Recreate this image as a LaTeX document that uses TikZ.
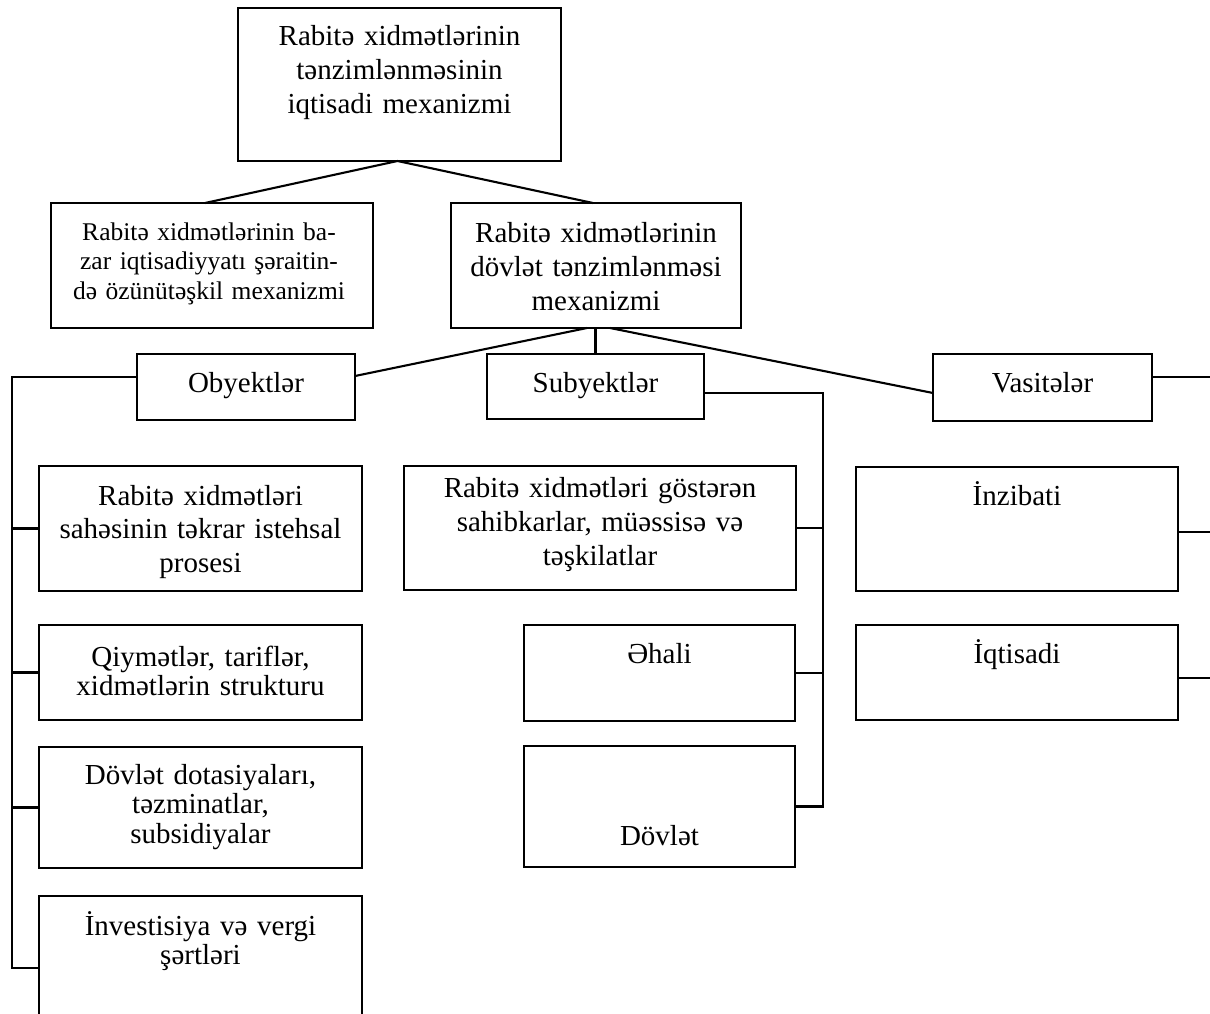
\documentclass[tikz,border=0pt]{standalone}
\usepackage{fontspec}
\setmainfont{Liberation Serif}
\begin{document}
\begin{tikzpicture}[x=1pt,y=-1pt,line width=2.1pt,
  box/.style={draw,line width=2.1pt,inner sep=0pt,outer sep=0pt},
  txt/.style={anchor=base,align=center,inner sep=0pt,text width=#1},
  big/.style={font=\fontsize{29}{34}\selectfont},
  mid/.style={font=\fontsize{29}{29.5}\selectfont},
  small/.style={font=\fontsize{25.5}{29.5}\selectfont}]
\useasboundingbox (0,0) rectangle (1210,1014);
\clip (0,0) rectangle (1210,1014);
% boxes
\node[box,minimum width=323,minimum height=153] (T) at (399.5,84.5) {};
\node[box,minimum width=322,minimum height=125] (B) at (212,265.5) {};
\node[box,minimum width=290,minimum height=125] (G) at (596,265.5) {};
\node[box,minimum width=218,minimum height=66] (O) at (246,387) {};
\node[box,minimum width=217,minimum height=65] (S) at (595.5,386.5) {};
\node[box,minimum width=219,minimum height=67] (V) at (1042.5,387.5) {};
\node[box,minimum width=323,minimum height=125] (L1) at (200.5,528.5) {};
\node[box,minimum width=323,minimum height=95] (L2) at (200.5,672.5) {};
\node[box,minimum width=323,minimum height=121] (L3) at (200.5,807.5) {};
\node[box,minimum width=323,minimum height=144] (L4) at (200.5,968) {};
\node[box,minimum width=392,minimum height=124] (M1) at (600,528) {};
\node[box,minimum width=271,minimum height=96] (M2) at (659.5,673) {};
\node[box,minimum width=271,minimum height=121] (M3) at (659.5,806.5) {};
\node[box,minimum width=322,minimum height=124] (R1) at (1017,529) {};
\node[box,minimum width=322,minimum height=95] (R2) at (1017,672.5) {};
% texts
\node[txt=323pt,big] (tT) at (399.5,46) {Rabitə xidmətlərinin\\tənzimlənməsinin\\iqtisadi mexanizmi};
\node[txt=322pt,small] (tB) at (209,240) {Rabitə xidmətlərinin ba-\\zar iqtisadiyyatı şəraitin-\\də özünütəşkil mexanizmi};
\node[txt=290pt,big] (tG) at (596,242) {Rabitə xidmətlərinin\\dövlət tənzimlənməsi\\mexanizmi};
\node[txt=218pt,big] (tO) at (246,392) {Obyektlər};
\node[txt=217pt,big] (tS) at (595.5,392) {Subyektlər};
\node[txt=219pt,big] (tV) at (1042.5,392) {Vasitələr};
\node[txt=323pt,font=\fontsize{29}{33.5}\selectfont] (tL1) at (200.5,505) {Rabitə xidmətləri\\sahəsinin təkrar istehsal\\prosesi};
\node[txt=323pt,mid] (tL2) at (200.5,666) {Qiymətlər, tariflər,\\xidmətlərin strukturu};
\node[txt=323pt,mid] (tL3) at (200.5,784) {Dövlət dotasiyaları,\\təzminatlar,\\subsidiyalar};
\node[txt=323pt,mid] (tL4) at (200.5,935) {İnvestisiya və vergi\\şərtləri};
\node[txt=392pt,big] (tM1) at (600,497) {Rabitə xidmətləri göstərən\\sahibkarlar, müəssisə və\\təşkilatlar};
\node[txt=271pt,big] (tM2) at (659.5,663) {Əhali};
\node[txt=271pt,big] (tM3) at (659.5,845) {Dövlət};
\node[txt=322pt,big] (tR1) at (1017,505) {İnzibati};
\node[txt=322pt,big] (tR2) at (1017,663) {İqtisadi};
% bus coordinates
\coordinate (lbus) at (12,0);
\coordinate (mbus) at (823,0);
\coordinate (redge) at (1210,0);
% connectors
\draw ([xshift=-2pt]T.south) -- ([xshift=-7pt]B.north);
\draw ([xshift=-2pt]T.south) -- ([xshift=-3pt]G.north);
\draw ([xshift=-9pt]G.south) -- ([yshift=11pt]O.east);
\draw (S.north |- G.south) -- (S.north);
\draw ([xshift=14pt]G.south) -- ([yshift=-5.5pt]V.west);
% objects bus
\draw ([yshift=10pt]O.west) -- ([yshift=10pt]O.west -| lbus) |- (L4.west);
\draw (L1.west) -- (L1.west -| lbus);
\draw (L2.west) -- (L2.west -| lbus);
\draw (L3.west) -- (L3.west -| lbus);
% subjects bus
\draw ([yshift=-6.5pt]S.east) -- ([yshift=-6.5pt]S.east -| mbus) |- (M3.east);
\draw (M1.east) -- (M1.east -| mbus);
\draw (M2.east) -- (M2.east -| mbus);
% means
\draw ([yshift=10.5pt]V.east) -- ([yshift=10.5pt]V.east -| redge);
\draw ([yshift=-3pt]R1.east) -- ([yshift=-3pt]R1.east -| redge);
\draw ([yshift=-5.5pt]R2.east) -- ([yshift=-5.5pt]R2.east -| redge);
\end{tikzpicture}
\end{document}
